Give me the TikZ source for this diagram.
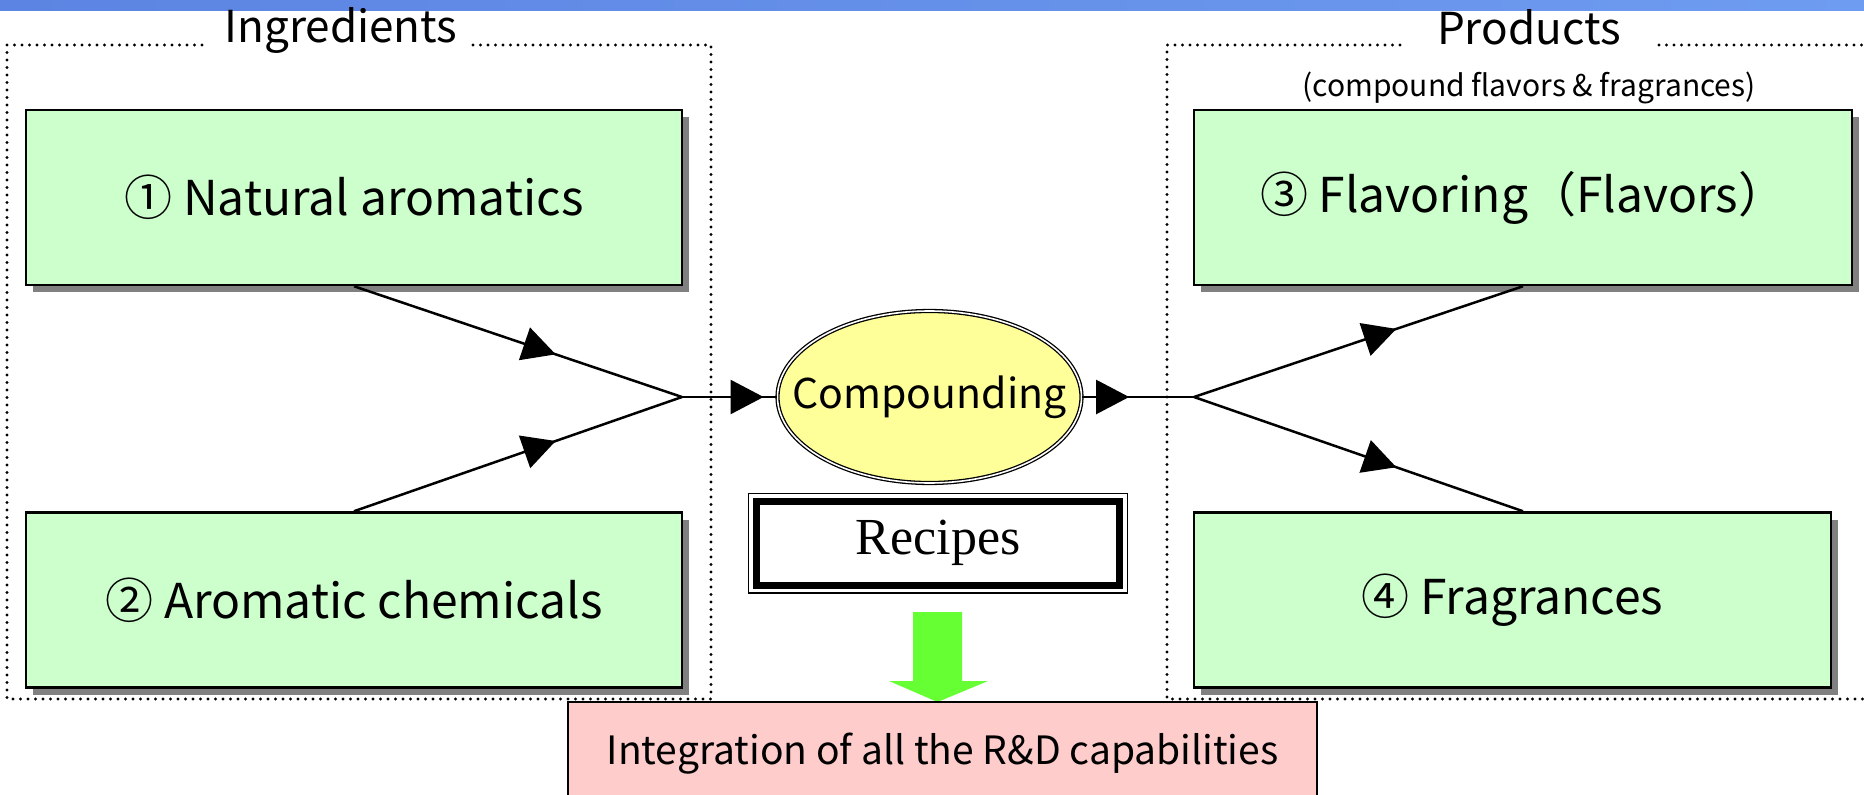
\documentclass[tikz,border=0pt]{standalone}
\usepackage{fontspec}
\setmainfont{Liberation Serif}
\newfontfamily\gothic{Noto Sans CJK JP}
\usetikzlibrary{positioning, arrows.meta, shapes.geometric, shadows, decorations.markings}

\definecolor{boxgreen}{RGB}{204,255,204}
\definecolor{compyellow}{RGB}{255,255,153}
\definecolor{rdpink}{RGB}{255,204,204}
\definecolor{arrowgreen}{RGB}{102,255,51}

\begin{document}
\begin{tikzpicture}[x=1pt, y=-1pt,
    itembox/.style={draw, line width=2.5pt, fill=boxgreen, minimum width=656pt, minimum height=175pt,
        font=\gothic\fontsize{48}{56}\selectfont,
        drop shadow={shadow xshift=7pt, shadow yshift=-7pt, fill=black!50, opacity=1}},
    compnode/.style={ellipse, draw, line width=1.3pt, double=white, double distance=1.6pt, fill=compyellow,
        minimum width=304pt, minimum height=172pt, inner sep=0pt, font=\gothic\fontsize{41}{48}\selectfont},
    recipebox/.style={draw, line width=7pt, fill=white, minimum width=363pt, minimum height=84pt, inner sep=0pt,
        preaction={draw, line width=17pt}, preaction={draw=white, line width=14.6pt},
        font=\fontsize{52}{60}\selectfont},
    rdbox/.style={draw, line width=1.5pt, fill=rdpink, minimum width=749pt, minimum height=104pt,
        font=\gothic\fontsize{39}{46}\selectfont},
    head/.style={inner sep=0pt, font=\gothic\fontsize{44}{50}\selectfont},
    dotframe/.style={line width=3.4pt, line cap=round, dash pattern=on 0pt off 7.5pt},
    flow/.style={line width=2.5pt, decoration={markings,
        mark=at position #1 with {\arrow{Triangle[length=33pt, width=34pt]}}}, postaction={decorate}}
    ]
    \clip (0,0) rectangle (1864,795);
    \shade[left color={rgb,255:red,92;green,132;blue,226}, right color={rgb,255:red,110;green,156;blue,240}]
        (0,0) rectangle (1864,10);

    % frames
    \draw[dotframe] (473,45) -- (711,45) -- (711,699) -- (7,699) -- (7,45) -- (208,45);
    \draw[dotframe] (1400,45) -- (1167,45) -- (1167,699) -- (1900,699);
    \draw[dotframe] (1659,45) -- (1900,45);
    \node[head] (ingr) at (341,30) {Ingredients};
    \node[head] (prod) at (1529,27) {Products};
    \node[inner sep=0pt, font=\gothic\fontsize{30}{36}\selectfont] (sub) at (1529,88) {(compound flavors \& fragrances)};

    \node[itembox] (nat) at (354,197.5) {① Natural aromatics};
    \node[itembox, below=225pt of nat] (arom) {② Aromatic chemicals};
    \node[itembox, minimum width=658pt] (flav) at (1523,197.5) {③ Flavoring（Flavors）};
    \node[itembox, below=225pt of flav.south west, anchor=north west, minimum width=637pt] (frag) {④ Fragrances};

    \node[compnode] (comp) at (929.5,397) {\makebox[0pt]{Compounding}};
    \node[recipebox] (rec) at (938,543) {Recipes};
    \fill[arrowgreen] (913,612) -- (962,612) -- (962,681) -- (988,681) -- (937.5,702) -- (889,681) -- (913,681) -- cycle;
    \node[rdbox] (rd) at (942.5,754) {Integration of all the R\&D capabilities};

    \coordinate (jl) at (682,397);
    \coordinate (jr) at (1194,397);
    \draw[flow=0.615] (nat.south) -- (jl);
    \draw[flow=0.615] (arom.north) -- (jl);
    \draw[flow=0.86] (jl) -- (comp.west);
    \draw[flow=0.42] (comp.east) -- (jr);
    \draw[flow=0.615] (jr) -- (flav.south);
    \draw[flow=0.615] (jr) -- (frag.north -| flav.south);
\end{tikzpicture}
\end{document}
